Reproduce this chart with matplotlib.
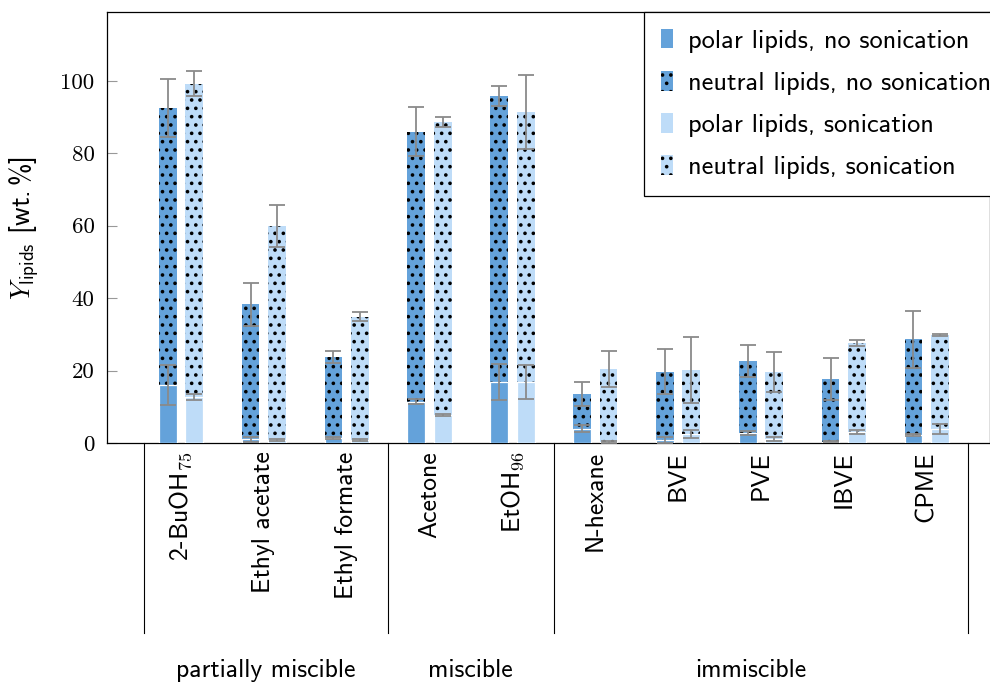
import numpy as np
import matplotlib
matplotlib.use('Agg')
import matplotlib.pyplot as plt
import matplotlib.transforms as mtransforms
from matplotlib.patches import Patch

plt.rcParams['mathtext.fontset'] = 'cm'
plt.rcParams['font.family'] = ['cmss10', 'DejaVu Sans']
plt.rcParams['hatch.color'] = 'black'
plt.rcParams['hatch.linewidth'] = 1.4
plt.rcParams['axes.unicode_minus'] = False

# data (wt.%)
solvents = ['2-BuOH$_{\\mathsf{75}}$', 'Ethyl acetate', 'Ethyl formate', 'Acetone',
            'EtOH$_{\\mathsf{96}}$', 'N-hexane', 'BVE', 'PVE', 'IBVE', 'CPME']
groups = ['partially miscible', 'miscible', 'immiscible']
group_edges = [-0.45, 2.5, 4.5, 9.5]

polar_ns = [16.0, 1.0, 1.3, 11.4, 16.9, 4.0, 0.8, 2.7, 0.4, 2.2]
neutral_ns = [76.5, 37.3, 22.5, 74.6, 79.0, 9.5, 18.9, 20.0, 17.3, 26.4]
polar_err_ns = [5.5, 0.6, 0.3, 0.7, 4.9, 1.0, 0.8, 0.6, 0.2, 0.2]
total_err_ns = [8.0, 6.0, 1.7, 6.7, 2.8, 3.3, 6.2, 4.5, 5.9, 7.8]

polar_s = [12.8, 0.8, 0.8, 7.7, 16.9, 0.3, 2.5, 1.1, 3.1, 3.8]
neutral_s = [86.4, 59.1, 34.1, 80.9, 74.4, 20.1, 17.7, 18.5, 24.5, 26.0]
polar_err_s = [0.8, 0.2, 0.2, 0.3, 4.7, 0.2, 1.2, 0.5, 0.5, 1.4]
total_err_s = [3.5, 5.8, 1.2, 1.3, 10.2, 5.0, 9.2, 5.5, 0.9, 0.2]

yticks = [0, 20, 40, 60, 80, 100]

dark = '#64a2da'
light = '#bedcf8'
errc = '#8a8a8a'

x = np.arange(len(solvents))
w = 0.215
off = 0.16

fig = plt.figure(figsize=(9.9, 6.82), dpi=100)
ax = fig.add_axes([0.108, 0.3504, 0.8915, 0.6320])

err_kw = dict(fmt='none', ecolor=errc, elinewidth=1.3, capsize=6, capthick=1.3, zorder=5)

for sign, pol, neu, pe, te, col in [(-1, polar_ns, neutral_ns, polar_err_ns, total_err_ns, dark),
                                     (1, polar_s, neutral_s, polar_err_s, total_err_s, light)]:
    xp = x + sign * off
    pol = np.array(pol)
    neu = np.array(neu)
    ax.bar(xp, neu, w, bottom=pol, color=col, hatch='..', linewidth=0, zorder=2)
    ax.bar(xp, pol, w, color=col, edgecolor='white', linewidth=0.9, zorder=3)
    ax.errorbar(xp, pol, yerr=pe, **err_kw)
    ax.errorbar(xp, pol + neu, yerr=te, **err_kw)

ax.set_xlim(-0.894, 9.758)
ax.set_ylim(0, 119)
ax.set_yticks(yticks)
ax.set_yticklabels([str(v) for v in yticks], fontfamily='cmr10', fontsize=16.5)
ax.tick_params(axis='y', direction='in', length=7, width=0.8, color='#999999', pad=9)
ax.set_xticks(x)
ax.set_xticklabels(solvents, rotation=90, fontsize=18.5, va='top')
ax.tick_params(axis='x', length=0, pad=6)
for sp in ax.spines.values():
    sp.set_linewidth(0.9)

ax.set_ylabel('$Y_{\\mathsf{lipids}}$ [wt.$\\,$%]', fontsize=19.5, va='center')
ax.yaxis.set_label_coords(-0.093, 0.5)

# group separators and labels below the axis
trans = mtransforms.blended_transform_factory(ax.transData, ax.transAxes)
for e in group_edges:
    ax.plot([e, e], [0, -0.44], transform=trans, color='black', lw=0.8, clip_on=False)
group_pos = [1.02, 3.49, 6.87]
for g, p in zip(groups, group_pos):
    ax.text(p, -0.543, g, transform=trans, ha='center', va='baseline', fontsize=18.5)

handles = [Patch(facecolor=dark, linewidth=0),
           Patch(facecolor=dark, hatch='..', linewidth=0),
           Patch(facecolor=light, linewidth=0),
           Patch(facecolor=light, hatch='..', linewidth=0)]
labels = ['polar lipids, no sonication', 'neutral lipids, no sonication',
          'polar lipids, sonication', 'neutral lipids, sonication']
leg = ax.legend(handles, labels, loc='upper left', bbox_to_anchor=(0.609, 1.0), fontsize=19,
                frameon=True, fancybox=False, edgecolor='black', framealpha=1,
                handlelength=0.45, handleheight=0.76, handletextpad=0.57,
                labelspacing=0.69, borderpad=0.64, borderaxespad=0)
leg.get_frame().set_linewidth(0.9)

fig.savefig('out.png', dpi=100)
